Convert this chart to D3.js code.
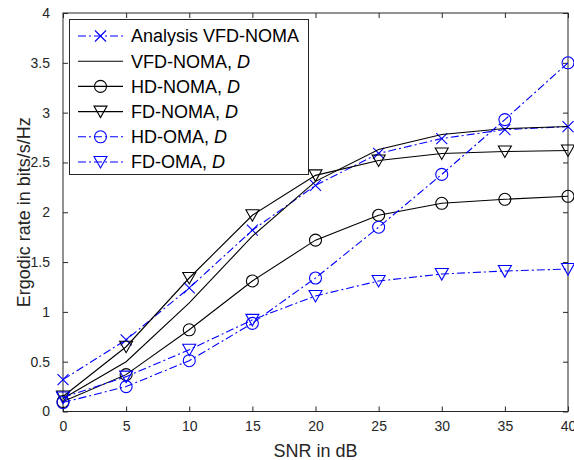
<!DOCTYPE html>
<html><head><meta charset="utf-8">
<script src="https://cdn.jsdelivr.net/npm/d3@7"></script>
<style>
body{margin:0;background:#fff;}
svg{display:block;font-family:"Liberation Sans",Arial,Helvetica,sans-serif;}
</style></head>
<body><svg id="chart" width="574" height="460"></svg>
<script>
const snr = [0, 5, 10, 15, 20, 25, 30, 35, 40];
const analysisVFD = [0.32, 0.72, 1.24, 1.82, 2.27, 2.59, 2.74, 2.83, 2.86];
const vfdNoma = [0.13, 0.50, 1.09, 1.76, 2.31, 2.63, 2.78, 2.84, 2.86];
const hdNoma = [0.10, 0.37, 0.82, 1.31, 1.72, 1.97, 2.09, 2.13, 2.16];
const fdNoma = [0.15, 0.65, 1.34, 1.97, 2.37, 2.52, 2.59, 2.61, 2.62];
const hdOma = [0.09, 0.25, 0.51, 0.885, 1.34, 1.85, 2.38, 2.93, 3.50];
const fdOma = [0.14, 0.35, 0.62, 0.92, 1.16, 1.31, 1.38, 1.41, 1.43];
const xTicks = [0, 5, 10, 15, 20, 25, 30, 35, 40];
const yTicks = [0, 0.5, 1, 1.5, 2, 2.5, 3, 3.5, 4];
const legendLabels = ["Analysis VFD-NOMA", "VFD-NOMA, ", "HD-NOMA, ", "FD-NOMA, ", "HD-OMA, ", "FD-OMA, "];
const legendItalic = ["", "D", "D", "D", "D", "D"];

const BLUE = "#0000ff", BLACK = "#000000", AX = "#262626";
const DASHDOT = "8,3,2,3";
const series = [
  {vals: analysisVFD, color: BLUE, dash: DASHDOT, marker: "x"},
  {vals: vfdNoma, color: BLACK, dash: null, marker: null},
  {vals: hdNoma, color: BLACK, dash: null, marker: "o"},
  {vals: fdNoma, color: BLACK, dash: null, marker: "v"},
  {vals: hdOma, color: BLUE, dash: DASHDOT, marker: "o"},
  {vals: fdOma, color: BLUE, dash: DASHDOT, marker: "v"}
];

const L = 63, R = 568, T = 13, B = 411.5;
const x = d3.scaleLinear().domain([0, 40]).range([L, R]);
const y = d3.scaleLinear().domain([0, 4]).range([B, T]);
const svg = d3.select("#chart");

function drawMarker(g, type, cx, cy, color) {
  if (type === "o") {
    g.append("circle").attr("cx", cx).attr("cy", cy).attr("r", 6)
      .attr("fill", "none").attr("stroke", color).attr("stroke-width", 1.1);
  } else if (type === "v") {
    g.append("path").attr("d", `M${cx-6.5},${cy-5.5}L${cx+6.5},${cy-5.5}L${cx},${cy+6}Z`)
      .attr("fill", "none").attr("stroke", color).attr("stroke-width", 1.1);
  } else if (type === "x") {
    const s = 5.5;
    g.append("path").attr("d", `M${cx-s},${cy-s}L${cx+s},${cy+s}M${cx-s},${cy+s}L${cx+s},${cy-s}`)
      .attr("fill", "none").attr("stroke", color).attr("stroke-width", 1.1);
  }
}

// axes box with inward ticks
const axG = svg.append("g");
axG.append("rect").attr("x", L).attr("y", T).attr("width", R - L).attr("height", B - T)
  .attr("fill", "none").attr("stroke", AX).attr("stroke-width", 1);

const xAxisB = d3.axisBottom(x).tickValues(xTicks).tickSizeInner(-5).tickSizeOuter(0).tickPadding(10).tickFormat(d3.format("d"));
const gxb = svg.append("g").attr("transform", `translate(0,${B})`).call(xAxisB);
const gxt = svg.append("g").attr("transform", `translate(0,${T})`).call(d3.axisTop(x).tickValues(xTicks).tickSizeInner(-5).tickSizeOuter(0).tickFormat(""));
const yAxisL = d3.axisLeft(y).tickValues(yTicks).tickSizeInner(-5).tickSizeOuter(0).tickPadding(13).tickFormat(d => String(d));
const gyl = svg.append("g").attr("transform", `translate(${L},0)`).call(yAxisL);
const gyr = svg.append("g").attr("transform", `translate(${R},0)`).call(d3.axisRight(y).tickValues(yTicks).tickSizeInner(-5).tickSizeOuter(0).tickFormat(""));
[gxb, gxt, gyl, gyr].forEach(g => {
  g.select(".domain").remove();
  g.selectAll(".tick line").attr("stroke", AX);
  g.selectAll(".tick text").attr("fill", AX).style("font-size", "14px").style("font-family", "'Liberation Sans',Arial,sans-serif");
});

// axis labels
svg.append("text").attr("x", (L + R) / 2).attr("y", 457).attr("text-anchor", "middle")
  .style("font-size", "18px").attr("fill", AX).text("SNR in dB");
svg.append("text").attr("transform", `translate(30,${(T + B) / 2}) rotate(-90)`).attr("text-anchor", "middle")
  .style("font-size", "18px").attr("fill", AX).text("Ergodic rate in bits/s/Hz");

// series
const line = d3.line().x((d, i) => x(snr[i])).y(d => y(d));
const dataG = svg.append("g");
series.forEach(s => {
  const p = dataG.append("path").datum(s.vals).attr("d", line)
    .attr("fill", "none").attr("stroke", s.color).attr("stroke-width", 1.1);
  if (s.dash) p.attr("stroke-dasharray", s.dash);
  if (s.marker) s.vals.forEach((v, i) => drawMarker(dataG, s.marker, x(snr[i]), y(v), s.color));
});

// legend
const lg = svg.append("g");
lg.append("rect").attr("x", 69.5).attr("y", 19.5).attr("width", 239).attr("height", 155)
  .attr("fill", "#fff").attr("stroke", AX).attr("stroke-width", 1);
series.forEach((s, i) => {
  const cy = 36 + i * 25.2;
  const l = lg.append("line").attr("x1", 78).attr("x2", 123).attr("y1", cy).attr("y2", cy)
    .attr("stroke", s.color).attr("stroke-width", 1.1);
  if (s.dash) l.attr("stroke-dasharray", s.dash);
  if (s.marker) drawMarker(lg, s.marker, 100.5, cy, s.color);
  const t = lg.append("text").attr("x", 131).attr("y", cy).attr("dy", "0.35em")
    .style("font-size", "18px").attr("fill", BLACK).text(legendLabels[i]);
  if (legendItalic[i]) t.append("tspan").style("font-style", "italic").text(legendItalic[i]);
});
</script></body></html>
